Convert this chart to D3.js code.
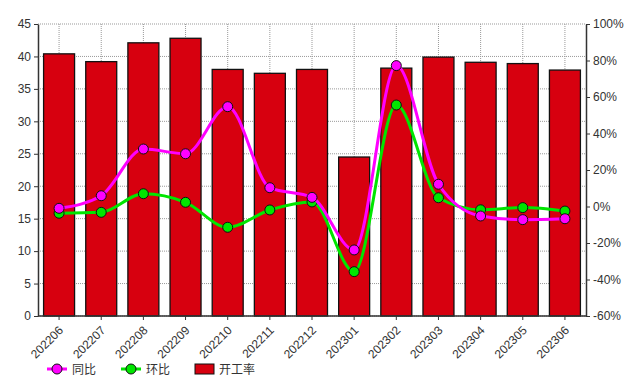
<!DOCTYPE html>
<html><head><meta charset="utf-8">
<script src="https://cdn.jsdelivr.net/npm/d3@7"></script>
<style>
body{margin:0;background:#fff;}
text{font-family:"Liberation Sans",Arial,sans-serif;}
</style></head>
<body><svg id="c" width="636" height="389"></svg>
<script>
const categories = ["202206","202207","202208","202209","202210","202211","202212","202301","202302","202303","202304","202305","202306"];
const rate = [40.4,39.2,42.1,42.8,38.0,37.4,38.0,24.5,38.2,39.9,39.1,38.9,37.9];
const yoy = [-1.0,5.9,31.5,28.9,54.7,10.3,5.0,-23.8,77.2,12.2,-5.2,-7.2,-6.7];
const mom = [-3.7,-3.2,7.0,2.3,-11.4,-1.9,2.5,-35.7,55.6,4.8,-1.8,-0.6,-2.5];
const leftTicks = [0,5,10,15,20,25,30,35,40,45];
const rightTicks = [-60,-40,-20,0,20,40,60,80,100];
const legendLabels = ["同比","环比","开工率"];

const svg = d3.select("#c");
const m = {l:38, r:586, t:24, b:316};
const x = d3.scaleBand().domain(categories).range([m.l, m.r]).paddingInner(0.265).paddingOuter(0.1325);
const xc = d => x(d) + x.bandwidth()/2;
const yL = d3.scaleLinear().domain([0,45]).range([m.b, m.t]);
const yR = d3.scaleLinear().domain([-60,100]).range([m.b, m.t]);

// grid
const g = svg.append("g");
g.selectAll(".hg").data(leftTicks).join("line")
  .attr("x1", m.l).attr("x2", m.r).attr("y1", d=>yL(d)).attr("y2", d=>yL(d))
  .attr("stroke","#999").attr("stroke-width",1).attr("stroke-dasharray","1,1");
g.selectAll(".vg").data(categories).join("line")
  .attr("x1", d=>xc(d)).attr("x2", d=>xc(d)).attr("y1", m.t).attr("y2", m.b)
  .attr("stroke","#999").attr("stroke-width",1).attr("stroke-dasharray","1,1");

// bars
svg.append("g").selectAll("rect").data(rate).join("rect")
  .attr("x",(d,i)=>x(categories[i])).attr("width",x.bandwidth())
  .attr("y",d=>yL(d)).attr("height",d=>yL(0)-yL(d))
  .attr("fill","#d7000f").attr("stroke","#111").attr("stroke-width",1.3);

// axes
const axL = svg.append("g").attr("transform",`translate(${m.l},0)`)
  .call(d3.axisLeft(yL).tickValues(leftTicks).tickSize(4).tickSizeOuter(0));
const axR = svg.append("g").attr("transform",`translate(${m.r},0)`)
  .call(d3.axisRight(yR).tickValues(rightTicks).tickSize(4).tickSizeOuter(0).tickFormat(d=>d+"%"));
const axB = svg.append("g").attr("transform",`translate(0,${m.b})`)
  .call(d3.axisBottom(x).tickSize(4).tickSizeOuter(0));
[axL,axR,axB].forEach(a=>{
  a.select(".domain").attr("stroke","#333").attr("stroke-width",1.5);
  a.selectAll(".tick line").attr("stroke","#333");
  a.selectAll("text").attr("fill","#333").attr("font-size",12);
});
axB.select(".domain").attr("d",`M${m.l},0H${m.r}`);
axB.selectAll("text").attr("font-size",12)
  .attr("text-anchor","end").attr("x",0).attr("y",0).attr("dy","0.35em")
  .attr("transform","translate(2,12) rotate(-45)");

// lines
function series(data, color){
  const line = d3.line().x((d,i)=>xc(categories[i])).y(d=>yR(d)).curve(d3.curveMonotoneX);
  const gg = svg.append("g");
  gg.append("path").attr("d",line(data)).attr("fill","none").attr("stroke",color).attr("stroke-width",3);
  gg.selectAll("circle").data(data).join("circle")
    .attr("cx",(d,i)=>xc(categories[i])).attr("cy",d=>yR(d)).attr("r",5)
    .attr("fill",color).attr("stroke","#111").attr("stroke-width",1);
}
series(mom,"#00e600");
series(yoy,"#ff00ff");

// legend
const lg = svg.append("g");
const ly = 369;
[["#ff00ff",47],["#00e600",121]].forEach(([c,lx],i)=>{
  lg.append("line").attr("x1",lx).attr("x2",lx+20).attr("y1",ly).attr("y2",ly).attr("stroke",c).attr("stroke-width",3);
  lg.append("circle").attr("cx",lx+10).attr("cy",ly).attr("r",5).attr("fill",c).attr("stroke","#111");
  lg.append("text").attr("x",lx+25).attr("y",ly+5).attr("font-size",12).attr("fill","#333")
    .style("font-family","'Noto Sans CJK SC',sans-serif").text(legendLabels[i]);
});
lg.append("rect").attr("x",195).attr("y",364).attr("width",19).attr("height",10).attr("fill","#d7000f").attr("stroke","#111");
lg.append("text").attr("x",219).attr("y",ly+5).attr("font-size",12).attr("fill","#333")
  .style("font-family","'Noto Sans CJK SC',sans-serif").text(legendLabels[2]);
</script></body></html>
